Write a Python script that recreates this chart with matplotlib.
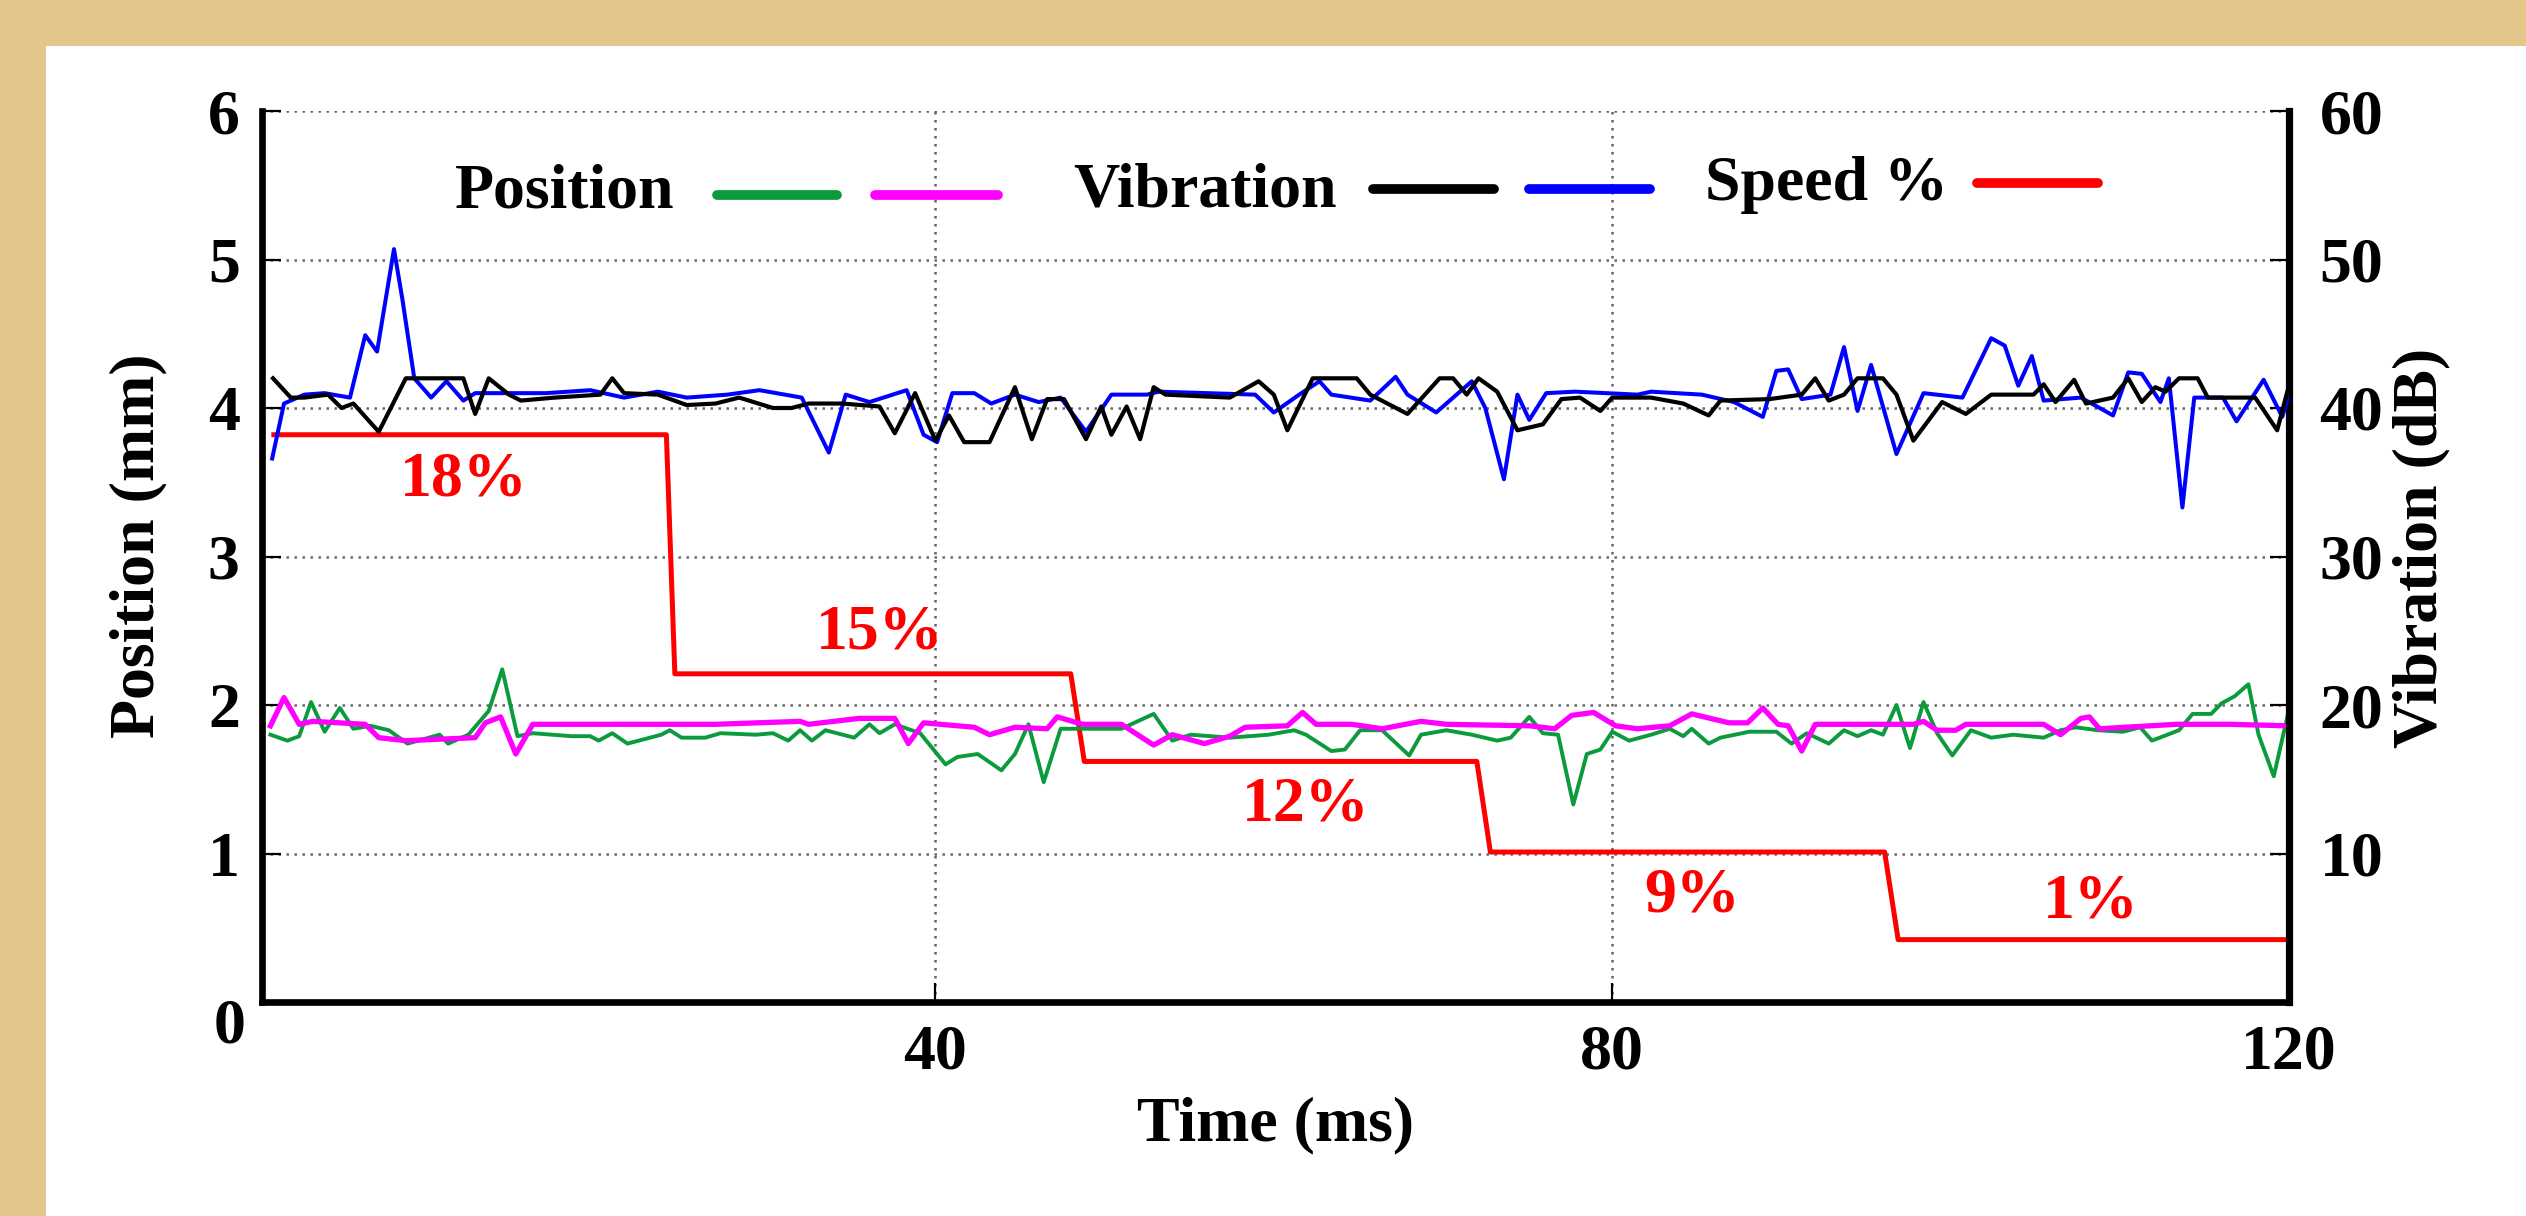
import matplotlib
matplotlib.use("Agg")
import matplotlib.pyplot as plt
from matplotlib.patches import Rectangle
from matplotlib.lines import Line2D

plt.rcParams["font.family"] = ["Liberation Serif", "DejaVu Serif"]
plt.rcParams["font.weight"] = "bold"

# ---- data -------------------------------------------------------------
# position (mm), green trace
t_pos_green = [0.7, 1.7, 2.4, 3.1, 3.9, 4.8, 5.6, 6.6, 7.7, 8.8, 10.7, 11.2, 12.4, 13.6, 14.4,
               15.3, 16.2, 18.5, 19.6, 20.1, 20.9, 21.8, 23.8, 24.3, 25.0, 26.4, 27.3, 29.4,
               30.4, 31.3, 32.0, 32.7, 33.5, 35.2, 36.1, 36.7, 37.6, 39.1, 40.6, 41.3, 42.5,
               43.9, 44.7, 45.5, 46.4, 47.4, 51.0, 52.9, 54.0, 55.1, 57.4, 59.7, 61.2, 61.9,
               63.4, 64.2, 65.1, 66.4, 68.0, 68.7, 70.2, 71.7, 73.2, 74.0, 75.1, 75.9, 76.8,
               77.7, 78.5, 79.3, 80.0, 81.0, 82.3, 83.4, 84.2, 84.7, 85.7, 86.4, 88.1, 89.7,
               90.6, 91.5, 92.8, 93.7, 94.5, 95.3, 96.0, 96.8, 97.6, 98.4, 99.2, 100.1, 101.2,
               102.4, 103.7, 105.5, 106.5, 107.4, 108.7, 110.2, 111.2, 111.9, 113.5, 114.3,
               115.4, 116.0, 116.8, 117.6, 118.2, 119.1, 119.9]
pos_green = [1.80, 1.76, 1.79, 2.02, 1.82, 1.98, 1.84, 1.86, 1.83, 1.74, 1.80, 1.74, 1.80, 1.96, 2.24,
             1.79, 1.81, 1.79, 1.79, 1.76, 1.81, 1.74, 1.80, 1.83, 1.78, 1.78, 1.81, 1.80,
             1.81, 1.76, 1.83, 1.76, 1.83, 1.78, 1.87, 1.81, 1.87, 1.81, 1.60, 1.65, 1.67,
             1.56, 1.67, 1.87, 1.48, 1.84, 1.84, 1.94, 1.76, 1.80, 1.78, 1.80, 1.83, 1.80,
             1.69, 1.70, 1.83, 1.83, 1.66, 1.80, 1.83, 1.80, 1.76, 1.78, 1.92, 1.81, 1.80,
             1.33, 1.67, 1.70, 1.82, 1.76, 1.80, 1.84, 1.79, 1.84, 1.74, 1.78, 1.82, 1.82,
             1.74, 1.81, 1.74, 1.83, 1.79, 1.83, 1.80, 2.00, 1.71, 2.02, 1.81, 1.66, 1.83,
             1.78, 1.80, 1.78, 1.83, 1.85, 1.83, 1.82, 1.85, 1.76, 1.83, 1.94,
             1.94, 2.01, 2.06, 2.14, 1.80, 1.52, 1.92]

# position (mm), magenta trace
t_pos_mag = [0.7, 1.5, 2.4, 3.2, 6.3, 7.1, 8.7, 12.8, 13.4, 14.3, 15.2, 16.2, 21.9, 27.0, 32.0,
             32.5, 35.5, 37.6, 38.4, 39.3, 42.3, 43.2, 44.7, 46.6, 47.2, 48.7, 51.0, 52.9,
             54.0, 55.9, 57.4, 58.3, 60.8, 61.7, 62.5, 64.6, 66.4, 68.7, 70.2, 75.1, 76.6,
             77.6, 78.9, 80.2, 81.5, 83.4, 84.7, 86.9, 88.0, 88.9, 89.8, 90.4, 91.2, 92.0,
             97.8, 98.4, 99.2, 100.3, 100.9, 105.5, 106.5, 107.7, 108.2, 108.8, 113.3,
             116.5, 119.9]
pos_mag = [1.86, 2.05, 1.87, 1.89, 1.87, 1.78, 1.76, 1.78, 1.88, 1.92, 1.67, 1.87, 1.87, 1.87, 1.89,
           1.87, 1.91, 1.91, 1.74, 1.88, 1.85, 1.80, 1.85, 1.84, 1.92, 1.87, 1.87, 1.73,
           1.80, 1.74, 1.79, 1.85, 1.86, 1.95, 1.87, 1.87, 1.84, 1.89, 1.87, 1.86, 1.84,
           1.93, 1.95, 1.86, 1.84, 1.86, 1.94, 1.88, 1.88, 1.98, 1.87, 1.86, 1.69, 1.87,
           1.87, 1.89, 1.83, 1.83, 1.87, 1.87, 1.80, 1.91, 1.92, 1.84, 1.87,
           1.87, 1.86]

# vibration (dB), black trace
t_vib_black = [0.85, 1.9, 2.7, 4.1, 4.9, 5.6, 7.1, 8.7, 12.1, 12.8, 13.6, 14.8, 15.5, 17.5, 20.2,
               20.9, 21.6, 23.6, 25.3, 27.0, 28.4, 30.4, 31.5, 32.5, 34.5, 36.7, 37.6, 38.8,
               40.0, 40.8, 41.7, 43.2, 44.7, 45.7, 46.6, 47.6, 48.9, 49.8, 50.4, 51.3, 52.1,
               52.9, 53.6, 57.4, 59.1, 60.0, 60.8, 62.3, 64.9, 65.7, 67.9, 69.8, 70.6, 71.4,
               72.1, 73.2, 74.4, 75.9, 77.0, 78.1, 79.3, 80.0, 82.3, 84.2, 85.7, 86.4, 89.3,
               91.2, 92.0, 92.8, 93.7, 94.5, 96.0, 96.8, 97.8, 99.5, 100.9, 102.4, 104.9,
               105.5, 106.2, 107.3, 108.0, 109.6, 110.5, 111.3, 112.1, 112.7, 113.5, 114.6,
               115.2, 118.0, 119.3, 119.9]
vib_black = [42.0, 40.7, 40.7, 40.9, 40.0, 40.3, 38.4, 42.0, 42.0, 39.6, 42.0, 40.9, 40.5, 40.7, 40.9,
             42.0, 41.0, 40.9, 40.2, 40.3, 40.7, 40.0, 40.0, 40.3, 40.3, 40.1, 38.3, 41.0,
             37.8, 39.5, 37.7, 37.7, 41.4, 37.9, 40.6, 40.6, 37.9, 40.1, 38.2, 40.1, 37.9,
             41.4, 40.9, 40.7, 41.8, 40.9, 38.5, 42.0, 42.0, 40.9, 39.6, 42.0, 42.0, 40.9,
             42.0, 41.1, 38.5, 38.9, 40.6, 40.7, 39.8, 40.7, 40.7, 40.3, 39.5, 40.5, 40.6,
             40.9, 42.0, 40.5, 40.9, 42.0, 42.0, 40.9, 37.8, 40.4, 39.6, 40.9, 40.9,
             41.6, 40.4, 41.9, 40.3, 40.7, 42.0, 40.4, 41.4, 41.1, 42.0, 42.0,
             40.7, 40.7, 38.5, 41.1]

# vibration (dB), blue trace
t_vib_blue = [0.8, 1.5, 2.7, 3.9, 5.4, 6.3, 7.0, 8.0, 8.5, 9.2, 10.2, 11.1, 12.1, 12.8, 17.0, 19.6,
              21.6, 23.6, 25.3, 27.7, 29.6, 32.1, 33.7, 34.7, 36.1, 38.3, 39.3, 40.1, 41.0,
              42.3, 43.3, 44.7, 46.1, 47.4, 48.9, 50.4, 52.5, 53.2, 58.9, 60.0, 61.5, 62.7,
              63.4, 65.7, 67.2, 67.9, 69.6, 71.7, 72.5, 73.6, 74.4, 75.1, 76.1, 77.8, 81.5,
              82.3, 85.3, 87.2, 88.9, 89.7, 90.4, 91.2, 92.9, 93.7, 94.5, 95.3, 96.8, 98.4,
              100.7, 102.4, 103.2, 104.0, 104.8, 105.5, 107.7, 109.6, 110.5, 111.3, 112.4,
              112.9, 113.7, 114.4, 116.1, 116.9, 118.5, 119.6, 120.0]
vib_blue = [36.6, 40.3, 40.9, 41.0, 40.7, 44.9, 43.8, 50.7, 47.3, 42.0, 40.7, 41.8, 40.5, 41.0, 41.0, 41.2,
            40.7, 41.1, 40.7, 40.9, 41.2, 40.7, 37.0, 40.9, 40.4, 41.2, 38.2, 37.7, 41.0,
            41.0, 40.3, 40.9, 40.4, 40.7, 38.4, 40.9, 40.9, 41.1, 40.9, 39.7, 40.9, 41.8,
            40.9, 40.5, 42.1, 40.9, 39.7, 41.8, 40.0, 35.2, 40.9, 39.2, 41.0, 41.1, 40.9,
            41.1, 40.9, 40.4, 39.4, 42.5, 42.6, 40.6, 40.9, 44.1, 39.8, 42.9, 36.9, 41.0,
            40.7, 44.7, 44.2, 41.5, 43.5, 40.5, 40.7, 39.5, 42.4, 42.3, 40.4,
            42.0, 33.3, 40.7, 40.7, 39.1, 41.9, 39.4, 40.9]

# speed steps, drawn on the left scale
t_speed = [0.9, 24.1, 24.6, 48.0, 48.8, 72.0, 72.8, 96.1, 96.9, 120.0]
speed_level = [3.82, 3.82, 2.21, 2.21, 1.62, 1.62, 1.01, 1.01, 0.42, 0.42]
speed_labels = ["18%", "15%", "12%", "9%", "1%"]
speed_label_t = [12.1, 36.7, 61.9, 84.7, 108.3]
speed_label_y = [3.51, 2.48, 1.32, 0.71, 0.67]

x_ticks = [40, 80, 120]
pos_ticks = [1, 2, 3, 4, 5, 6]
vib_ticks = [10, 20, 30, 40, 50, 60]

GREEN = "#0b9a3c"
MAGENTA = "#ff00ff"
BLUE = "#0000ff"
RED = "#ff0000"
FS = 46

# ---- figure -------------------------------------------------------------
fig = plt.figure(figsize=(25.26, 12.16), dpi=100)
fig.patch.set_facecolor("#e3c68a")
fig.patches.append(Rectangle((46 / 2526, 0), 1, 1 - 46 / 1216, transform=fig.transFigure,
                             facecolor="white", edgecolor="none", zorder=-5))

ax = fig.add_axes([262 / 2526, (1216 - 1002) / 1216, 2027 / 2526, 891 / 1216])
ax.set_facecolor("white")
ax2 = ax.twinx()

ax.plot(t_speed, speed_level, color=RED, lw=3.6, zorder=2)
ax.plot(t_pos_green, pos_green, color=GREEN, lw=2.8, zorder=3)
ax.plot(t_pos_mag, pos_mag, color=MAGENTA, lw=3.8, zorder=4)
ax2.plot(t_vib_blue, vib_blue, color=BLUE, lw=2.9, zorder=3)
ax2.plot(t_vib_black, vib_black, color="black", lw=3.0, zorder=4)

for lab, tx, ty in zip(speed_labels, speed_label_t, speed_label_y):
    ax.text(tx, ty, lab, color=RED, fontsize=FS, fontweight="bold", ha="center", va="center")

ax.set_xlim(0.2, 120)
ax.set_ylim(0, 6)
ax2.set_ylim(0, 60)

ax.set_xticks(x_ticks)
ax.set_yticks(pos_ticks)
ax2.set_yticks(vib_ticks)
ax.tick_params(axis="both", direction="in", length=14, width=1.6, labelsize=FS)
ax.tick_params(axis="y", pad=16)
ax.tick_params(axis="x", pad=16)
ax2.tick_params(axis="y", direction="in", length=14, width=1.6, labelsize=FS, pad=22)
for lbl in ax.get_xticklabels() + ax.get_yticklabels() + ax2.get_yticklabels():
    lbl.set_fontweight("bold")

ax.grid(True, color="#666666", linestyle=(0, (1, 2.2)), linewidth=1.8)
ax.set_axisbelow(True)

for s in ("top", "right"):
    ax.spines[s].set_visible(False)
for s in ("top", "left", "bottom"):
    ax2.spines[s].set_visible(False)
for s in ("left", "bottom"):
    ax.spines[s].set_linewidth(4.8)
ax2.spines["right"].set_linewidth(5.2)

ax.text(-0.0158, -0.029, "0", transform=ax.transAxes, fontsize=FS, fontweight="bold",
        ha="center", va="center")

ax.set_xlabel("Time (ms)", fontsize=FS, fontweight="bold", labelpad=10)
fig.text(138 / 2526, 1 - 546 / 1216, "Position (mm)", rotation=90, fontsize=FS,
         fontweight="bold", ha="center", va="center")
fig.text(2421 / 2526, 1 - 548 / 1216, "Vibration (dB)", rotation=90, fontsize=FS,
         fontweight="bold", ha="center", va="center")

# hand-built legend
ax.text(0.0952, 0.892, "Position", transform=ax.transAxes, fontsize=FS, fontweight="bold",
        ha="left", va="baseline")
ax.text(0.4001, 0.893, "Vibration", transform=ax.transAxes, fontsize=FS, fontweight="bold",
        ha="left", va="baseline")
ax.text(0.7119, 0.900, "Speed %", transform=ax.transAxes, fontsize=FS, fontweight="bold",
        ha="left", va="baseline")
for (x0, x1, y, c) in [(0.2245, 0.2837, 0.906, GREEN), (0.3024, 0.3631, 0.906, MAGENTA),
                       (0.5481, 0.6078, 0.9125, "black"), (0.6251, 0.6848, 0.9125, BLUE),
                       (0.8461, 0.9058, 0.919, RED)]:
    ax.add_line(Line2D([x0, x1], [y, y], transform=ax.transAxes, color=c, lw=7,
                       solid_capstyle="round", zorder=5))

fig.savefig("out.png", dpi=100, facecolor=fig.get_facecolor())
